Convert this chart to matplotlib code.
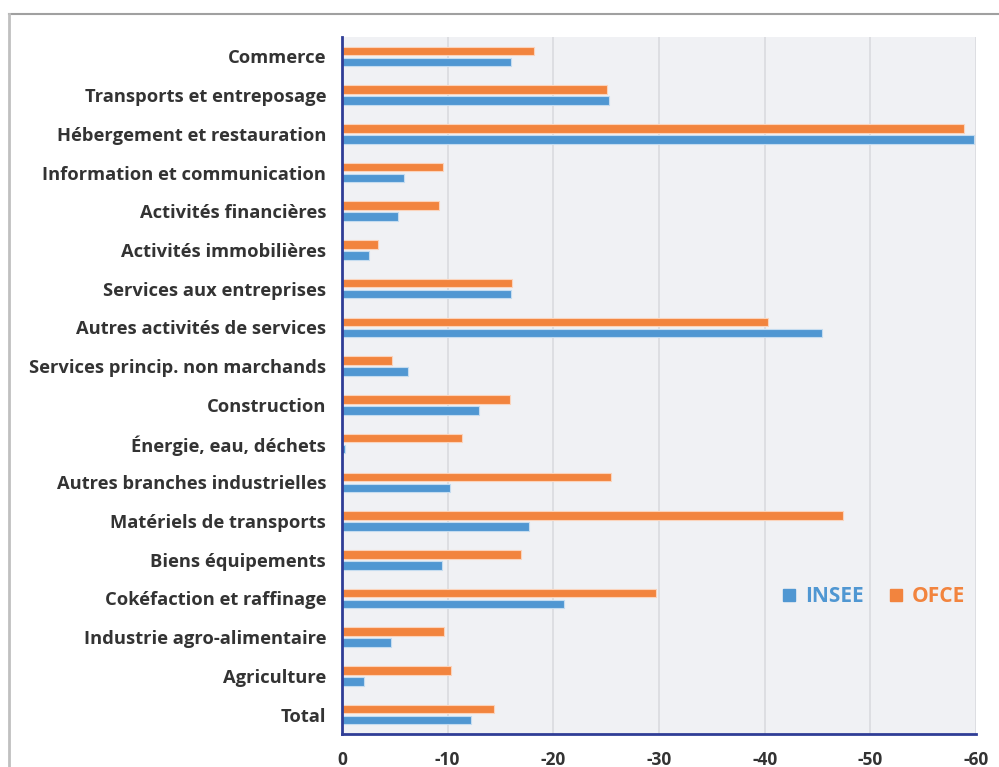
import matplotlib.pyplot as plt
import numpy as np
from matplotlib.lines import Line2D

# Branches, top to bottom as drawn
branches = ['Commerce', 'Transports et entreposage', 'Hébergement et restauration',
            'Information et communication', 'Activités financières', 'Activités immobilières',
            'Services aux entreprises', 'Autres activités de services',
            'Services princip. non marchands', 'Construction', 'Énergie, eau, déchets',
            'Autres branches industrielles', 'Matériels de transports', 'Biens équipements',
            'Cokéfaction et raffinage', 'Industrie agro-alimentaire', 'Agriculture', 'Total']

insee = [-16.0, -25.3, -59.8, -5.9, -5.3, -2.6, -16.0, -45.4, -6.2, -13.0, -0.3,
         -10.2, -17.7, -9.5, -21.0, -4.6, -2.1, -12.2]
ofce = [-18.2, -25.1, -58.9, -9.6, -9.2, -3.4, -16.1, -40.3, -4.7, -15.9, -11.4,
        -25.5, -47.4, -16.9, -29.7, -9.7, -10.3, -14.4]

xticks = [0, -10, -20, -30, -40, -50, -60]
xtick_labels = ['0', '-10', '-20', '-30', '-40', '-50', '-60']

blue = '#5097d2'
orange = '#f2843e'
navy = '#2f3d96'

plt.rcParams['font.family'] = ['Open Sans', 'DejaVu Sans']

fig = plt.figure(figsize=(9.99, 7.67), dpi=100)
ax = fig.add_axes([342 / 999, 1 - 734 / 767, (976 - 342) / 999, (734 - 37) / 767])
ax.set_facecolor('#f0f1f4')

y = np.arange(len(branches))
h = 0.22
off = 0.142
ax.barh(y - off, ofce, height=h, color=orange, edgecolor='#fbd3bb', linewidth=0.8, label='OFCE', zorder=3)
ax.barh(y + off, insee, height=h, color=blue, edgecolor='#c4dcf0', linewidth=0.8, label='INSEE', zorder=3)

ax.set_xlim(0, -60)
ax.set_ylim(len(branches) - 0.5, -0.5)
ax.set_xticks(xticks)
ax.set_xticklabels(xtick_labels, fontsize=12.5, fontweight='bold', color='#333333')
ax.set_yticks(y)
ax.set_yticklabels(branches, fontsize=13.2, fontweight='bold', color='#333333')
ax.tick_params(axis='both', length=0)
ax.tick_params(axis='y', pad=11.5)
ax.tick_params(axis='x', pad=12)

ax.grid(axis='x', color='#dcdde1', linewidth=1.3, zorder=0)
ax.set_axisbelow(True)
for s in ['top', 'right']:
    ax.spines[s].set_visible(False)
for s in ['left', 'bottom']:
    ax.spines[s].set_color(navy)
    ax.spines[s].set_linewidth(2)
    ax.spines[s].set_zorder(4)

handles = [Line2D([], [], marker='s', linestyle='', color=blue, markersize=9),
           Line2D([], [], marker='s', linestyle='', color=orange, markersize=9)]
leg = ax.legend(handles, ['INSEE', 'OFCE'], loc='center', bbox_to_anchor=(0.838, 0.197),
                ncol=2, frameon=False, handlelength=0.7, handletextpad=0.4, columnspacing=1.2,
                prop={'size': 15, 'weight': 'bold'})
for t, c in zip(leg.get_texts(), [blue, orange]):
    t.set_color(c)

# outer frame lines
fig.add_artist(Line2D([9 / 999, 1], [1 - 14 / 767, 1 - 14 / 767], color='#a0a0a0', linewidth=1.5))
fig.add_artist(Line2D([9 / 999, 9 / 999], [0, 1 - 14 / 767], color='#c0c0c0', linewidth=2))

fig.savefig('out.png', dpi=100)
